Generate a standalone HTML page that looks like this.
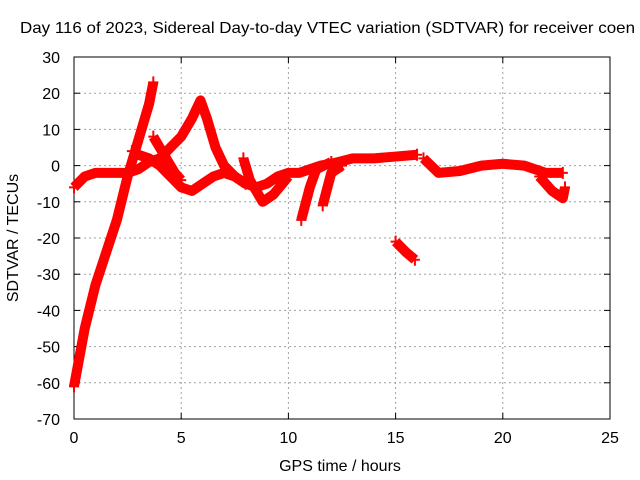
<!DOCTYPE html>
<html><head><meta charset="utf-8"><style>
body{margin:0;background:#fff}
svg{display:block;font-family:"Liberation Sans",sans-serif}
</style></head><body>
<svg width="640" height="480" xmlns="http://www.w3.org/2000/svg">
<text x="20" y="33" font-size="16" textLength="615" lengthAdjust="spacingAndGlyphs">Day 116 of 2023, Sidereal Day-to-day VTEC variation (SDTVAR) for receiver coen</text>
<g id="grid"></g>
<g id="axes"></g>
<g id="series"></g>
<text x="340" y="471" font-size="16" text-anchor="middle">GPS time / hours</text>
<text transform="translate(18,238) rotate(-90)" font-size="16" text-anchor="middle">SDTVAR / TECUs</text>
</svg>
<script>
const xTicks=[0,5,10,15,20,25];
const yTicks=[30,20,10,0,-10,-20,-30,-40,-50,-60,-70];
const track1=[[0,-61],[0.5,-45],[1,-33],[1.5,-24],[2,-15],[2.5,-3],[3,7],[3.5,17],[3.7,23]];
const track2=[[0,-6],[0.5,-3],[1,-2],[1.5,-2],[2,-2],[2.5,-2],[3,-1],[3.5,1],[4,2],[4.5,5],[5,8],[5.5,13],[5.9,18],[6.2,13],[6.6,5],[7,0],[7.5,-3],[8,-5]];
const track3=[[2.7,4],[3,3],[3.5,2],[4,0],[4.5,-3],[5,-6],[5.5,-7],[6,-5],[6.5,-3],[7,-2],[7.5,-3],[8,-5],[8.5,-6],[9,-5],[9.5,-3],[10,-2],[10.5,-2],[11,-1],[11.5,0],[12,0.5],[13,2],[14,2],[15,2.5],[16,3]];
const track4=[[3.7,8],[4.2,3],[4.7,-2],[5,-4]];
const track5=[[7.9,2],[8.2,-4],[8.8,-10],[9.3,-8],[10,-3]];
const track6=[[10.6,-15],[11,-6],[11.3,-1],[12,1]];
const track7=[[11.6,-11],[12,-2],[12.5,0]];
const track8=[[15,-21],[15.5,-24],[15.9,-26]];
const track9=[[16.3,2],[17,-2],[18,-1.5],[19,0],[20,0.5],[21,0],[21.5,-1],[22,-2],[22.8,-2]];
const track10=[[21.7,-3],[22.3,-7],[22.8,-9],[22.9,-6]];
const tracks=[track1,track2,track3,track4,track5,track6,track7,track8,track9,track10];
const X0=74,X1=610,Y0=57,Y1=419;
const sx=x=>X0+(x-0)/25*(X1-X0);
const sy=y=>Y0+(30-y)/100*(Y1-Y0);
const NS="http://www.w3.org/2000/svg";
function mk(t,a,p){const e=document.createElementNS(NS,t);for(const k in a)e.setAttribute(k,a[k]);p.appendChild(e);return e;}
const grid=document.getElementById('grid'),axes=document.getElementById('axes'),ser=document.getElementById('series');
xTicks.forEach(v=>{
  if(v>0&&v<25){const l=mk('line',{x1:sx(v),x2:sx(v),y1:Y0,y2:Y1,stroke:'#a0a0a0','stroke-dasharray':'2,3'},grid);
  
  }
  const tl=mk('line',{x1:sx(v),x2:sx(v),y1:Y1,y2:Y1-6,stroke:'#000'},axes);
  
  
  const t2=mk('line',{x1:sx(v),x2:sx(v),y1:Y0,y2:Y0+6,stroke:'#000'},axes);
  
  
  const t=mk('text',{x:sx(v),y:Y1+24,'font-size':16,'text-anchor':'middle'},axes);t.textContent=v;
  
  
});
yTicks.forEach(v=>{
  if(v<30&&v>-70){const l=mk('line',{x1:X0,x2:X1,y1:sy(v),y2:sy(v),stroke:'#a0a0a0','stroke-dasharray':'2,3'},grid);
  
  }
  const tl=mk('line',{x1:X0,x2:X0+6,y1:sy(v),y2:sy(v),stroke:'#000'},axes);
  
  
  const t2=mk('line',{x1:X1,x2:X1-6,y1:sy(v),y2:sy(v),stroke:'#000'},axes);
  
  
  const t=mk('text',{x:X0-14,y:sy(v)+6,'font-size':16,'text-anchor':'end'},axes);t.textContent=v;
  
  
});
const fr=mk('rect',{x:X0,y:Y0,width:X1-X0,height:Y1-Y0,fill:'none',stroke:'#000'},axes);


tracks.forEach(tr=>{
  const p=mk('polyline',{points:tr.map(d=>sx(d[0])+','+sy(d[1])).join(' '),fill:'none',stroke:'#ff0000','stroke-width':10,'stroke-linejoin':'round'},ser);
  
  
  [tr[0],tr[tr.length-1]].forEach(d=>{
    const m=mk('path',{d:`M${sx(d[0])-5},${sy(d[1])}h10M${sx(d[0])},${sy(d[1])-6}v12`,stroke:'#ff0000','stroke-width':2},ser);
    
    
  });
});
</script>
</body></html>
